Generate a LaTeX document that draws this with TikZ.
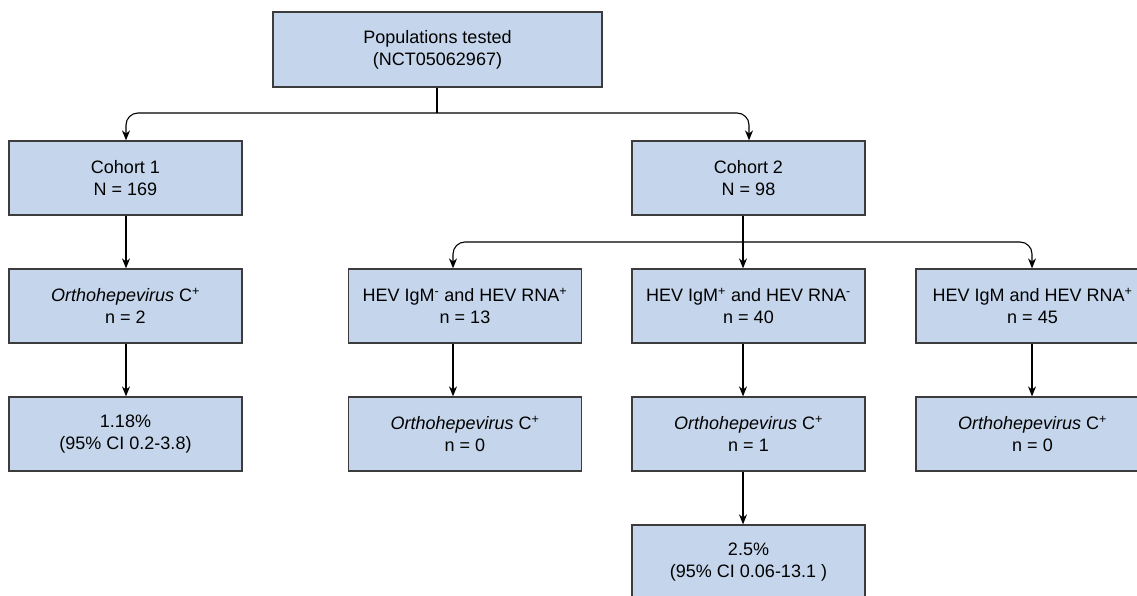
\documentclass[tikz,border=0pt]{standalone}
\usepackage{fontspec}
\setmainfont{Liberation Sans}
\usetikzlibrary{arrows.meta}
\definecolor{boxfill}{RGB}{197,214,236}
\definecolor{boxline}{RGB}{60,60,60}
\begin{document}
\begin{tikzpicture}[x=1pt,y=-1pt,
  box/.style={draw=boxline, line width=1.3pt, fill=boxfill, rectangle,
    minimum width=233pt, minimum height=74pt, inner sep=0pt, align=center,
    font=\fontsize{18}{21.7}\selectfont},
  conn/.style={draw=black, line width=1.1pt},
  arr/.style={conn, -{Stealth[length=10pt,width=8pt]}},
  rc/.style={rounded corners=12pt}]
\path[use as bounding box] (0,0) rectangle (1137,596);
\clip (0,0) rectangle (1137,596);

\node[box, minimum width=329pt, minimum height=75pt] (top) at (437.5,49.5) {Populations tested\\(NCT05062967)};

\node[box] (c1) at (125.5,178) {Cohort 1\\N = 169};
\node[box] (c2) at (748.5,178) {Cohort 2\\N = 98};

\node[box] (l3) at (125.5,306) {\textit{Orthohepevirus} C\textsuperscript{+}\\n = 2};
\node[box] (a) at (465,306) {HEV IgM\textsuperscript{-} and HEV RNA\textsuperscript{+}\\n = 13};
\node[box] (b) at (748.5,306) {HEV IgM\textsuperscript{+} and HEV RNA\textsuperscript{-}\\n = 40};
\node[box] (c) at (1032.5,306) {HEV IgM and HEV RNA\textsuperscript{+}\\n = 45};

\node[box] (l4) at (125.5,434) {1.18\%\\(95\% CI 0.2-3.8)};
\node[box] (a4) at (465,434) {\textit{Orthohepevirus} C\textsuperscript{+}\\n = 0};
\node[box] (b4) at (748.5,434) {\textit{Orthohepevirus} C\textsuperscript{+}\\n = 1};
\node[box] (c4) at (1032.5,434) {\textit{Orthohepevirus} C\textsuperscript{+}\\n = 0};

\node[box] (b5) at (748.5,562) {2.5\%\\(95\% CI 0.06-13.1 )};

% level 1 split
\coordinate (hub1) at (437,113);
\coordinate (x1) at (126,0);
\coordinate (x2) at (749,0);
\draw[conn] (hub1 |- top.south) -- (hub1);
\draw[arr, rc] (hub1) -| (x1 |- c1.north);
\draw[arr, rc] (hub1) -| (x2 |- c2.north);

% left column
\draw[arr] (x1 |- c1.south) -- (x1 |- l3.north);
\draw[arr] (x1 |- l3.south) -- (x1 |- l4.north);

% level 2 split
\coordinate (hub2) at (743,242);
\coordinate (xa) at (453,0);
\coordinate (xc) at (1032,0);
\draw[arr] (hub2 |- c2.south) -- (hub2 |- b.north);
\draw[arr, rc] (hub2) -| (xa |- a.north);
\draw[arr, rc] (hub2) -| (xc |- c.north);

% lower arrows
\draw[arr] (xa |- a.south) -- (xa |- a4.north);
\draw[arr] (hub2 |- b.south) -- (hub2 |- b4.north);
\draw[arr] (xc |- c.south) -- (xc |- c4.north);
\draw[arr] (hub2 |- b4.south) -- (hub2 |- b5.north);
\end{tikzpicture}
\end{document}
